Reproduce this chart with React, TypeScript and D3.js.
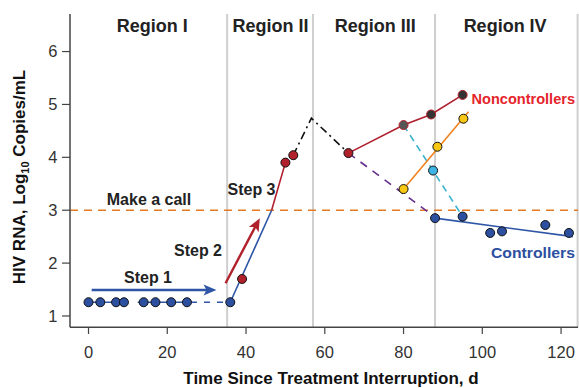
import React from "react";
import * as d3 from "d3";

const W = 579;
const H = 388;

// Axis ticks
const xTicks = [0, 20, 40, 60, 80, 100, 120];
const yTicks = [1, 2, 3, 4, 5, 6];

// Region boundaries (days) and labels
const regionBounds = [35.2, 57, 88, 124.2];
const regionNames = ["Region I", "Region II", "Region III", "Region IV"];
const regionLabelX = [16.2, 46.2, 72.8, 105.8];

// Step 1: undetectable baseline measurements
const step1Days = [0, 3, 7, 9, 14, 17, 21, 25, 36];
const step1Vals = [1.26, 1.26, 1.26, 1.26, 1.26, 1.26, 1.26, 1.26, 1.26];

// Rebound red points
const reboundDays = [39, 50, 52];
const reboundVals = [1.7, 3.9, 4.04];

// Peak (dash-dot) path
const peakDays = [52, 56.6, 66];
const peakVals = [4.04, 4.74, 4.08];

// Noncontroller trajectory
const nonDays = [66, 80, 87, 95];
const nonVals = [4.08, 4.61, 4.81, 5.18];

// Orange (rising) trajectory
const orangeLineDays = [80, 96.5];
const orangeLineVals = [3.4, 4.86];
const yellowDays = [80, 88.6, 95.2];
const yellowVals = [3.4, 4.2, 4.73];

// Cyan dashed trajectory
const cyanLineDays = [80, 95];
const cyanLineVals = [4.61, 2.88];
const cyanPointDays = [87.5];
const cyanPointVals = [3.75];

// Purple dashed trajectory
const purpleDays = [66, 88];
const purpleVals = [4.08, 2.87];

// Controllers
const ctrlDays = [88, 95, 102, 105, 116, 122];
const ctrlVals = [2.85, 2.88, 2.57, 2.6, 2.72, 2.57];
const ctrlFitDays = [88, 123];
const ctrlFitVals = [2.85, 2.5];

// Rise lines
const blueRiseDays = [36, 46.5];
const blueRiseVals = [1.26, 3.0];
const redRiseDays = [46.5, 50];
const redRiseVals = [3.0, 3.9];

// Arrows
const step1ArrowDays = [0.8, 32.5];
const step1ArrowVals = [1.49, 1.49];
const step2ArrowDays = [34.8, 43.5];
const step2ArrowVals = [1.62, 2.85];

const threshold = 3;

const FONT = "'Liberation Sans', Arial, Helvetica, sans-serif";

const C = {
  blue: "#2c4f9f",
  blueLine: "#2f56a6",
  red: "#b1212c",
  redLine: "#b01f2d",
  orange: "#e57a25",
  orangeLine: "#f0821e",
  yellow: "#f8c713",
  cyan: "#3cb5e4",
  cyanLine: "#3bb3cc",
  purple: "#66308e",
  grayLine: "#cfcfcf",
  axis: "#444",
  text: "#222",
  nonText: "#e4252b",
  ctrlText: "#2c4f9f",
};

export default function App() {
  const x = d3.scaleLinear().domain([-4.7, 124.3]).range([70, 578]);
  const y = d3.scaleLinear().domain([0.786, 6.71]).range([327.3, 14]);
  const line = d3
    .line<[number, number]>()
    .x((d) => x(d[0]))
    .y((d) => y(d[1]));
  const zip = (a: number[], b: number[]) => a.map((v, i) => [v, b[i]] as [number, number]);

  const arrow = (days: number[], vals: number[], color: string, width: number) => {
    const x1 = x(days[0]), y1 = y(vals[0]), x2 = x(days[1]), y2 = y(vals[1]);
    const ang = Math.atan2(y2 - y1, x2 - x1);
    const L = 13, Wd = 5.5;
    const bx = x2 - L * Math.cos(ang), by = y2 - L * Math.sin(ang);
    const px = -Math.sin(ang), py = Math.cos(ang);
    const head = `M${x2},${y2} L${bx + Wd * px},${by + Wd * py} L${bx + 3 * Math.cos(ang)},${by + 3 * Math.sin(ang)} L${bx - Wd * px},${by - Wd * py} Z`;
    return (
      <g>
        <line x1={x1} y1={y1} x2={bx + 4 * Math.cos(ang)} y2={by + 4 * Math.sin(ang)} stroke={color} strokeWidth={width} />
        <path d={head} fill={color} />
      </g>
    );
  };

  const dots = (days: number[], vals: number[], fill: string, stroke = "#111", r = 4.5) =>
    days.map((d, i) => (
      <circle key={i} cx={x(d)} cy={y(vals[i])} r={r} fill={fill} stroke={stroke} strokeWidth={1} />
    ));

  return (
    <svg width={W} height={H} style={{ position: "absolute", left: 0, top: 0, background: "#fff" }} fontFamily={FONT}>
      {/* region separators */}
      {regionBounds.map((b, i) => (
        <line key={i} x1={x(b)} x2={x(b)} y1={y(6.71)} y2={y(0.786)} stroke={C.grayLine} strokeWidth={2} />
      ))}
      {regionNames.map((n, i) => (
        <text key={i} x={x(regionLabelX[i])} y={32} textAnchor="middle" fontSize={18} fontWeight="bold" fill={C.text}>
          {n}
        </text>
      ))}

      {/* threshold */}
      <line x1={x(-4.7)} x2={x(124.3)} y1={y(threshold)} y2={y(threshold)} stroke={C.orange} strokeWidth={1.5} strokeDasharray="8,6" />
      <text x={149} y={205} textAnchor="middle" fontSize={16} fontWeight="bold" fill={C.text}>Make a call</text>

      {/* step 1 baseline lines */}
      <path d={line(zip(step1Days.slice(0, 4), step1Vals.slice(0, 4)))!} stroke={C.blueLine} strokeWidth={1.5} fill="none" />
      <path d={line([[12.5, step1Vals[4]], ...zip(step1Days.slice(4, 8), step1Vals.slice(4, 8))])!} stroke={C.blueLine} strokeWidth={1.5} fill="none" />
      <path d={line(zip(step1Days.slice(7, 9), step1Vals.slice(7, 9)))!} stroke={C.blueLine} strokeWidth={1.5} fill="none" strokeDasharray="6,7" strokeDashoffset={-4} />

      {/* rise lines */}
      <path d={line(zip(blueRiseDays, blueRiseVals))!} stroke={C.blueLine} strokeWidth={1.6} fill="none" />
      <path d={line(zip(redRiseDays, redRiseVals))!} stroke={C.redLine} strokeWidth={1.6} fill="none" />
      <path d={line(zip(peakDays, peakVals))!} stroke="#111" strokeWidth={1.6} fill="none" strokeDasharray="8,4,2,4" />

      {/* trajectories */}
      <path d={line(zip(purpleDays, purpleVals))!} stroke={C.purple} strokeWidth={1.6} fill="none" strokeDasharray="8,7" />
      <path d={line(zip(cyanLineDays, cyanLineVals))!} stroke={C.cyanLine} strokeWidth={1.6} fill="none" strokeDasharray="7,5" />
      <path d={line(zip(nonDays, nonVals))!} stroke={C.redLine} strokeWidth={1.6} fill="none" />
      <path d={line(zip(orangeLineDays, orangeLineVals))!} stroke={C.orangeLine} strokeWidth={1.6} fill="none" />
      <path d={line(zip(ctrlFitDays, ctrlFitVals))!} stroke={C.blueLine} strokeWidth={1.6} fill="none" />

      {/* arrows */}
      {arrow(step1ArrowDays, step1ArrowVals, C.blueLine, 2.4)}
      {arrow(step2ArrowDays, step2ArrowVals, C.red, 2.4)}

      {/* step labels */}
      <text x={148} y={282.5} textAnchor="middle" fontSize={16} fontWeight="bold" fill={C.text}>Step 1</text>
      <text x={198} y={256} textAnchor="middle" fontSize={16} fontWeight="bold" fill={C.text}>Step 2</text>
      <text x={251.5} y={195} textAnchor="middle" fontSize={16} fontWeight="bold" fill={C.text}>Step 3</text>

      {/* dots */}
      {dots(step1Days, step1Vals, C.blue)}
      {dots(reboundDays, reboundVals, C.red)}
      {dots([nonDays[0]], [nonVals[0]], C.red)}
      {dots([nonDays[1]], [nonVals[1]], "#555", C.red)}
      {dots(nonDays.slice(2), nonVals.slice(2), "#333", C.red)}
      {dots(yellowDays, yellowVals, C.yellow)}
      {dots(cyanPointDays, cyanPointVals, C.cyan)}
      {dots(ctrlDays, ctrlVals, C.blue)}

      {/* group labels */}
      <text x={471.5} y={103.5} fontSize={15} fontWeight="bold" fill={C.nonText} textLength={103.5} lengthAdjust="spacingAndGlyphs">Noncontrollers</text>
      <text x={491} y={258} fontSize={15} fontWeight="bold" fill={C.ctrlText} textLength={84} lengthAdjust="spacingAndGlyphs">Controllers</text>

      {/* axes */}
      <line x1={70} x2={70} y1={14} y2={327.3} stroke={C.axis} strokeWidth={1.5} />
      <line x1={70} x2={578} y1={327.3} y2={327.3} stroke={C.axis} strokeWidth={1.5} />
      {yTicks.map((t) => (
        <g key={t}>
          <line x1={62} x2={70} y1={y(t)} y2={y(t)} stroke={C.axis} strokeWidth={1.2} />
          <text x={57.5} y={y(t)} dy="0.36em" textAnchor="end" fontSize={16.5} fill="#333">{t}</text>
        </g>
      ))}
      {xTicks.map((t) => (
        <g key={t}>
          <line x1={x(t)} x2={x(t)} y1={327.3} y2={334} stroke={C.axis} strokeWidth={1.2} />
          <text x={x(t)} y={357.5} textAnchor="middle" fontSize={16.5} fill="#333">{t}</text>
        </g>
      ))}

      {/* axis titles */}
      <text x={331} y={384} textAnchor="middle" fontSize={17} fontWeight="bold" fill="#111">
        Time Since Treatment Interruption, d
      </text>
      <text transform="translate(25,177) rotate(-90)" textAnchor="middle" fontSize={17} fontWeight="bold" fill="#111">
        HIV RNA, Log<tspan fontSize={11} dy={4}>10</tspan>
        <tspan dy={-4}> Copies/mL</tspan>
      </text>
    </svg>
  );
}
